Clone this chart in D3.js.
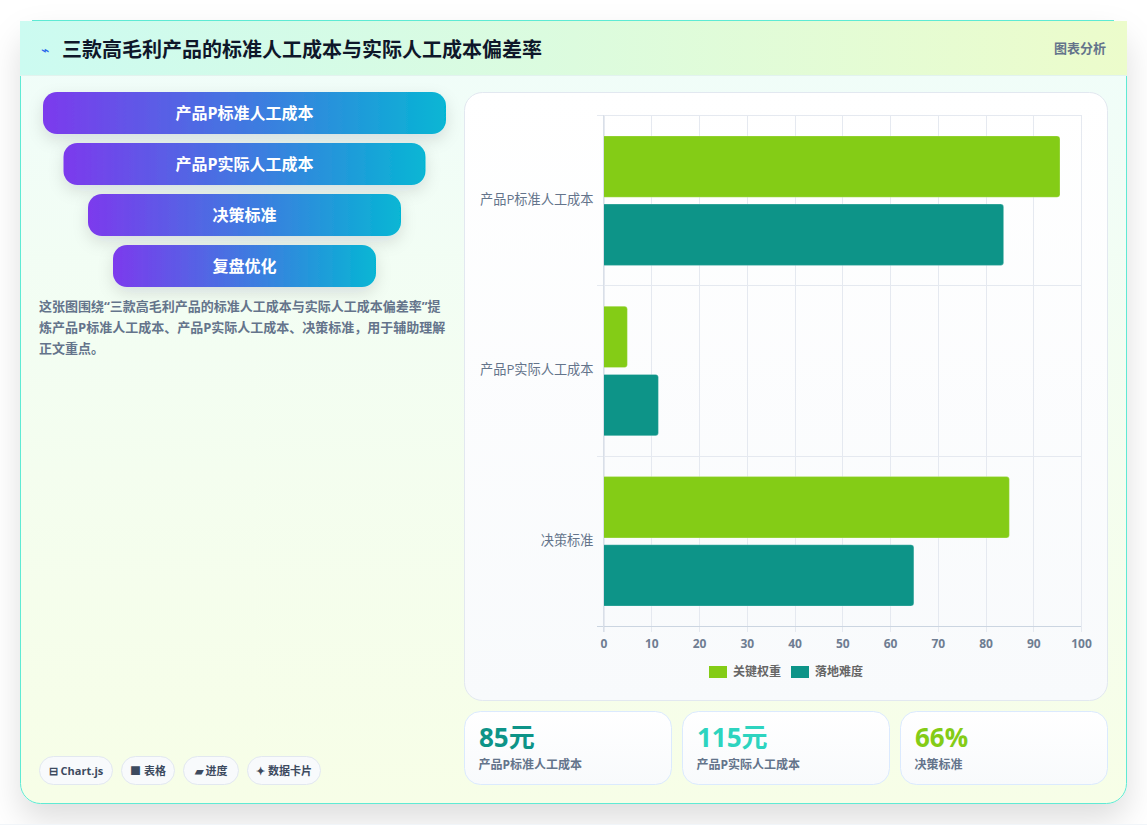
<!DOCTYPE html>
<html lang="zh-CN">
<head>
<meta charset="utf-8">
<title>三款高毛利产品的标准人工成本与实际人工成本偏差率</title>
<script src="https://cdn.jsdelivr.net/npm/d3@7/dist/d3.min.js"></script>
<style>
  html, body { margin: 0; padding: 0; background: #fff; overflow: hidden; }
  svg { display: block; }
  text { font-family: "Open Sans", "Noto Sans CJK SC", sans-serif; }
</style>
</head>
<body>
<svg id="chart" width="1147" height="825"></svg>
<script>
const titleText = "三款高毛利产品的标准人工成本与实际人工成本偏差率";
const titleIcon = "⌁";
const headerTag = "图表分析";
const funnelSteps = ["产品P标准人工成本", "产品P实际人工成本", "决策标准", "复盘优化"];
const noteLines = [
  "这张图围绕“三款高毛利产品的标准人工成本与实际人工成本偏差率”提",
  "炼产品P标准人工成本、产品P实际人工成本、决策标准，用于辅助理解",
  "正文重点。"
];
const chips = ["⊟ Chart.js", "■ 表格", "▰ 进度", "✦ 数据卡片"];
const categories = ["产品P标准人工成本", "产品P实际人工成本", "决策标准"];
const seriesNames = ["关键权重", "落地难度"];
const keyWeight = [95.6, 5, 85];
const difficulty = [83.8, 11.5, 65];
const xTicks = [0, 10, 20, 30, 40, 50, 60, 70, 80, 90, 100];
const statValues = ["85元", "115元", "66%"];
const statLabels = ["产品P标准人工成本", "产品P实际人工成本", "决策标准"];

const seriesColors = ["#84cc16", "#0d9488"];
const statColors = ["#0d9488", "#2dd4bf", "#84cc16"];

const svg = d3.select("#chart");
const defs = svg.append("defs");

function linearGradient(id, stops, x2, y2) {
  const g = defs.append("linearGradient").attr("id", id)
    .attr("x1", 0).attr("y1", 0).attr("x2", x2).attr("y2", y2);
  stops.forEach(([o, c]) => g.append("stop").attr("offset", o).attr("stop-color", c));
}
linearGradient("cardBg", [[0, "#f0fdfa"], [1, "#f7fee7"]], 0, 1);
linearGradient("headBg", [[0, "#ccfbf1"], [1, "#ecfccb"]], 1, 0);
linearGradient("stepBg", [[0, "#7c3aed"], [1, "#06b6d4"]], 1, 0);
linearGradient("panelBg", [[0, "#ffffff"], [1, "#f8fafc"]], 0, 1);

function shadow(id, dy, blur, opacity, color) {
  defs.append("filter").attr("id", id)
    .attr("x", "-20%").attr("y", "-40%").attr("width", "140%").attr("height", "200%")
    .append("feDropShadow")
    .attr("dx", 0).attr("dy", dy).attr("stdDeviation", blur)
    .attr("flood-color", color).attr("flood-opacity", opacity);
}
shadow("cardShadow", 16, 16, 0.13, "#1a1a1a");
shadow("stepShadow", 6, 8, 0.12, "#0f172a");

// page and outer card
svg.append("rect").attr("width", 1147).attr("height", 825).attr("fill", "#fff");
svg.append("rect").attr("x", 20.5).attr("y", 20.5).attr("width", 1106).attr("height", 783).attr("rx", 20)
  .attr("fill", "url(#cardBg)").attr("stroke", "#5eead4").attr("filter", "url(#cardShadow)");
svg.append("rect").attr("y", 824).attr("width", 1147).attr("height", 1).attr("fill", "#f1f5f9");

// header band
svg.append("rect").attr("x", 20).attr("y", 21).attr("width", 1107).attr("height", 54).attr("fill", "url(#headBg)");
svg.append("line").attr("x1", 20).attr("x2", 1127).attr("y1", 75.5).attr("y2", 75.5).attr("stroke", "#e2f3ee");
svg.append("line").attr("x1", 32).attr("x2", 1114).attr("y1", 20.5).attr("y2", 20.5).attr("stroke", "#5eead4");
svg.append("text").attr("x", 41).attr("y", 55).attr("font-size", 14).attr("fill", "#2563eb").text(titleIcon);
svg.append("text").attr("x", 62).attr("y", 57).attr("font-size", 20).attr("font-weight", 700)
  .attr("fill", "#0f172a").text(titleText);
svg.append("text").attr("x", 1106).attr("y", 53).attr("text-anchor", "end").attr("font-size", 13)
  .attr("font-weight", 700).attr("fill", "#64748b").text(headerTag);

// funnel of stages, narrowing downwards around a shared centre
const stepWidth = d3.scaleOrdinal().domain(funnelSteps).range([403, 362, 313, 263]);
const stepTop = d3.scalePoint().domain(funnelSteps).range([92, 245]);
const steps = svg.append("g").selectAll("g").data(funnelSteps).join("g")
  .attr("transform", d => `translate(${244.5},${stepTop(d)})`);
steps.append("rect")
  .attr("x", d => -stepWidth(d) / 2).attr("width", d => stepWidth(d)).attr("height", 42).attr("rx", 14)
  .attr("fill", "url(#stepBg)").attr("filter", "url(#stepShadow)");
steps.append("text").attr("y", 27).attr("text-anchor", "middle").attr("font-size", 16).attr("font-weight", 700)
  .attr("fill", "#fff").text(d => d);

// explanatory note
svg.append("g").selectAll("text").data(noteLines).join("text")
  .attr("x", 39).attr("y", (d, i) => 311 + i * 21)
  .attr("font-size", 13).attr("font-weight", 700).attr("fill", "#64748b").text(d => d);

// tool chips
const chipWidth = d3.scaleOrdinal().domain(chips).range([74, 54, 56, 74]);
const chipLeft = d3.scaleOrdinal().domain(chips).range([39, 121, 183, 247]);
const chipGroups = svg.append("g").selectAll("g").data(chips).join("g")
  .attr("transform", d => `translate(${chipLeft(d)},756)`);
chipGroups.append("rect").attr("x", 0.5).attr("y", 0.5).attr("width", d => chipWidth(d) - 1).attr("height", 28).attr("rx", 14)
  .attr("fill", "#f8fafc").attr("stroke", "#e2e8f0");
chipGroups.append("text").attr("x", d => chipWidth(d) / 2).attr("y", 19).attr("text-anchor", "middle")
  .attr("font-size", 11).attr("font-weight", 700).attr("fill", "#3d4a5f").text(d => d);

// chart panel
svg.append("rect").attr("x", 464.5).attr("y", 92.5).attr("width", 643).attr("height", 608).attr("rx", 18)
  .attr("fill", "url(#panelBg)").attr("stroke", "#e2e8f0");

const x = d3.scaleLinear().domain([0, 100]).range([603.5, 1081]);
const y = d3.scaleBand().domain(categories).range([115.5, 626.5]);
const inner = d3.scaleBand().domain(seriesNames)
  .range([y.bandwidth() * 0.1, y.bandwidth() * 0.9]).paddingInner(0.1).paddingOuter(0.05);

// vertical and horizontal grid
const grid = svg.append("g").attr("fill", "none").attr("stroke", "#e5e9f0");
grid.selectAll(".gx").data(xTicks).join("line")
  .attr("x1", d => Math.round(x(d)) + 0.5).attr("x2", d => Math.round(x(d)) + 0.5)
  .attr("y1", 115).attr("y2", 632);
grid.selectAll(".gy").data([...categories.map(c => y(c)), y.range()[1]]).join("line")
  .attr("x1", 597).attr("x2", 1081)
  .attr("y1", d => Math.floor(d) + 0.5).attr("y2", d => Math.floor(d) + 0.5);

// rounded on the value end only
function barPath(x0, x1, top, h, r) {
  const p = d3.path();
  p.moveTo(x0, top);
  p.lineTo(x1 - r, top);
  p.arcTo(x1, top, x1, top + r, r);
  p.lineTo(x1, top + h - r);
  p.arcTo(x1, top + h, x1 - r, top + h, r);
  p.lineTo(x0, top + h);
  p.closePath();
  return p.toString();
}

const rows = categories.map((c, i) => ({ c, values: [keyWeight[i], difficulty[i]] }));
svg.append("g").selectAll("g").data(rows).join("g")
  .attr("transform", d => `translate(0,${y(d.c)})`)
  .selectAll("path").data(d => d.values.map((v, j) => ({ v, name: seriesNames[j], j }))).join("path")
  .attr("d", d => barPath(x(0), x(d.v), inner(d.name), inner.bandwidth(), 3))
  .attr("fill", d => seriesColors[d.j])
  .attr("stroke", "rgba(255,255,255,0.25)");

// axis baseline drawn over the bars
svg.append("line").attr("x1", 597).attr("x2", 1081).attr("y1", 626.5).attr("y2", 626.5).attr("stroke", "#cbd5e1");
svg.append("line").attr("x1", 603.5).attr("x2", 603.5).attr("y1", 115).attr("y2", 632).attr("stroke", "#d9dfe8");

const xAxis = svg.append("g").attr("transform", "translate(0,626)")
  .call(d3.axisBottom(x).tickValues(xTicks).tickSize(0).tickPadding(13));
xAxis.select(".domain").remove();
xAxis.selectAll("text").attr("font-size", 12).attr("font-weight", 700).attr("fill", "#6f7d92")
  .style("font-family", '"Open Sans", sans-serif');

const yAxis = svg.append("g").attr("transform", "translate(603.5,-1)")
  .call(d3.axisLeft(y).tickSize(0).tickPadding(10));
yAxis.select(".domain").remove();
yAxis.selectAll("text").attr("font-size", 13.2).attr("fill", "#64748b")
  .style("font-family", '"Open Sans", "Noto Sans CJK SC", sans-serif');

// legend
const legendLeft = d3.scaleOrdinal().domain(seriesNames).range([709, 791]);
const legend = svg.append("g").selectAll("g").data(seriesNames).join("g")
  .attr("transform", d => `translate(${legendLeft(d)},666)`);
legend.append("rect").attr("width", 18).attr("height", 12).attr("fill", (d, i) => seriesColors[i]);
legend.append("text").attr("x", 24).attr("y", 10).attr("font-size", 12).attr("font-weight", 700)
  .attr("fill", "#666").text(d => d);

// summary cards
const cardLeft = d3.scaleOrdinal().domain(statLabels.map((d, i) => i)).range([464, 682, 900]);
const cards = svg.append("g").selectAll("g").data(statValues).join("g")
  .attr("transform", (d, i) => `translate(${cardLeft(i)},711)`);
cards.append("rect").attr("x", 0.5).attr("y", 0.5).attr("width", 207).attr("height", 73).attr("rx", 16)
  .attr("fill", "url(#panelBg)").attr("stroke", "#dbeafe");
cards.append("text").attr("x", 15).attr("y", 36).attr("font-size", 26).attr("font-weight", 700)
  .attr("fill", (d, i) => statColors[i]).text(d => d);
cards.append("text").attr("x", 14.5).attr("y", 58).attr("font-size", 12).attr("font-weight", 700)
  .attr("fill", "#64748b").text((d, i) => statLabels[i]);
</script>
</body>
</html>
